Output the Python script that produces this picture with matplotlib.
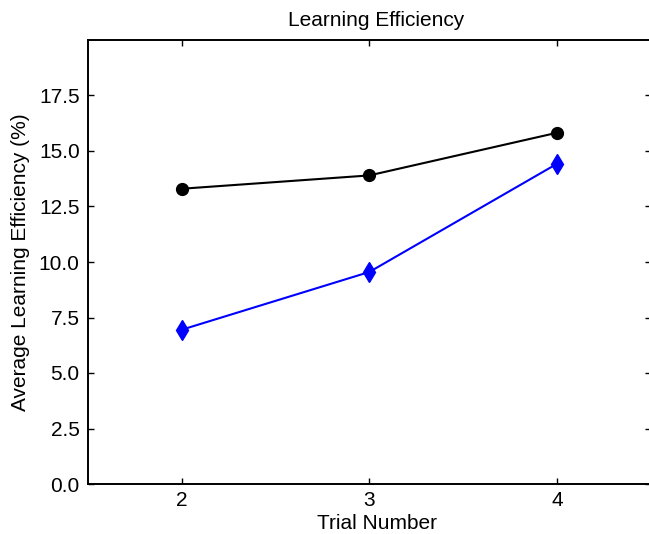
import matplotlib.pyplot as plt

# data
trials = [2, 3, 4]
series_black = [13.3, 13.9, 15.82]
series_blue = [6.95, 9.55, 14.42]
yticks = [0.0, 2.5, 5.0, 7.5, 10.0, 12.5, 15.0, 17.5]

plt.rcParams['font.family'] = ['Liberation Sans', 'DejaVu Sans']

fig = plt.figure(figsize=(6.49, 5.34), dpi=100)
ax = fig.add_axes([88 / 649, 50 / 534, 562.6 / 649, 444 / 534])

ax.plot(trials, series_black, color='black', marker='o', markersize=8.5, linewidth=1.5)
ax.plot(trials, series_blue, color='blue', marker='d', markersize=10.5, linewidth=1.5)

ax.set_xlim(1.5, 4.5)
ax.set_ylim(0, 20)
ax.set_xticks(trials)
ax.set_yticks(yticks)
ax.set_yticklabels([f'{v:.1f}' for v in yticks])
ax.tick_params(direction='in', length=4, width=1, labelsize=15,
               top=True, right=True, pad=6)
ax.tick_params(axis='x', pad=5)
for s in ax.spines.values():
    s.set_linewidth(1.4)

# title and x label sit a little right of the axes centre in the reference
ax.set_title('Learning Efficiency', fontsize=15, pad=10, x=0.512)
ax.set_xlabel('Trial Number', fontsize=15)
ax.xaxis.set_label_coords(0.513, -0.067)
ax.set_ylabel('Average Learning Efficiency (%)', fontsize=15, labelpad=6)

fig.savefig('out.png', dpi=100)
